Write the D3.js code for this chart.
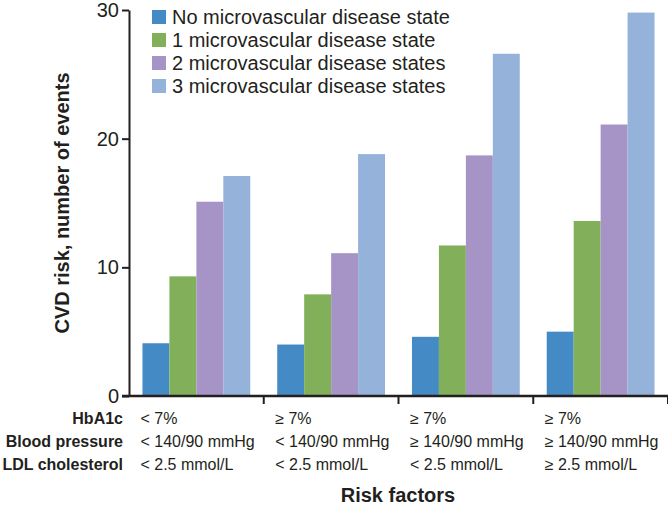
<!DOCTYPE html>
<html>
<head>
<meta charset="utf-8">
<script src="https://cdn.jsdelivr.net/npm/d3@7"></script>
<style>
  body { margin: 0; background: #fff; }
  svg text { font-family: "Liberation Sans", Arial, sans-serif; fill: #231f20; }
</style>
</head>
<body>
<svg id="chart" width="668" height="509"></svg>
<script>
// risk factor groups (x categories)
var groups = ["g1", "g2", "g3", "g4"];
var hba1c = ["< 7%", "\u2265 7%", "\u2265 7%", "\u2265 7%"];
var bloodPressure = ["< 140/90 mmHg", "< 140/90 mmHg", "\u2265 140/90 mmHg", "\u2265 140/90 mmHg"];
var ldl = ["< 2.5 mmol/L", "< 2.5 mmol/L", "< 2.5 mmol/L", "\u2265 2.5 mmol/L"];
var rowLabels = ["HbA1c", "Blood pressure", "LDL cholesterol"];

// series
var seriesNames = [
  "No microvascular disease state",
  "1 microvascular disease state",
  "2 microvascular disease states",
  "3 microvascular disease states"
];
var noMicro    = [4.1, 4.0, 4.6, 5.0];
var oneMicro   = [9.3, 7.9, 11.7, 13.6];
var twoMicro   = [15.1, 11.1, 18.7, 21.1];
var threeMicro = [17.1, 18.8, 26.6, 29.8];
var colors = ["#448bc6", "#82af59", "#a794c6", "#95b3da"];
var yTicks = [0, 10, 20, 30];

var seriesVals = [noMicro, oneMicro, twoMicro, threeMicro];

var svg = d3.select("#chart");
var pad = {left: 129, right: 668, top: 10, bottom: 396};

var x0 = d3.scaleBand().domain(groups).range([pad.left, pad.right]);
var x1 = d3.scaleBand().domain(d3.range(seriesNames.length))
  .range([x0.bandwidth() * 0.1, x0.bandwidth() * 0.9]);
var y = d3.scaleLinear().domain([0, 30]).range([pad.bottom, pad.top]);

// bars
groups.forEach(function(g, gi) {
  svg.append("g")
    .attr("transform", "translate(" + x0(g) + ",0)")
    .selectAll("rect")
    .data(seriesVals.map(function(s, si) { return {si: si, v: s[gi]}; }))
    .join("rect")
      .attr("x", function(d) { return x1(d.si); })
      .attr("width", x1.bandwidth())
      .attr("y", function(d) { return y(d.v); })
      .attr("height", function(d) { return pad.bottom - y(d.v); })
      .attr("fill", function(d) { return colors[d.si]; });
});

// y axis
var yAxis = svg.append("g")
  .attr("transform", "translate(" + pad.left + ",0)")
  .call(d3.axisLeft(y).tickValues(yTicks).tickSize(7).tickPadding(3).tickSizeOuter(0));
yAxis.select(".domain").attr("stroke", "#231f20").attr("stroke-width", 2);
yAxis.selectAll(".tick line").attr("stroke", "#231f20").attr("stroke-width", 2);
yAxis.selectAll(".tick text").style("font-size", "20px").attr("font-family", null);

// x axis (ticks at band edges)
var xg = svg.append("g");
xg.append("line")
  .attr("x1", pad.left - 7).attr("x2", pad.right)
  .attr("y1", pad.bottom).attr("y2", pad.bottom)
  .attr("stroke", "#231f20").attr("stroke-width", 2.5);
xg.selectAll("line.tk")
  .data(groups)
  .join("line")
    .attr("class", "tk")
    .attr("x1", function(d) { return x0(d) + x0.bandwidth(); })
    .attr("x2", function(d) { return x0(d) + x0.bandwidth(); })
    .attr("y1", pad.bottom).attr("y2", pad.bottom + 8)
    .attr("stroke", "#231f20").attr("stroke-width", 2);

// risk factor labels
var rows = [hba1c, bloodPressure, ldl];
var rowY = [424, 447, 470];
rowLabels.forEach(function(lbl, ri) {
  svg.append("text")
    .attr("x", 123).attr("y", rowY[ri])
    .attr("text-anchor", "end")
    .style("font-size", "16px").style("font-weight", "bold")
    .text(lbl);
  svg.selectAll(null)
    .data(rows[ri])
    .join("text")
      .attr("x", function(d, i) { return x0(groups[i]) + x1(0) - 2; })
      .attr("y", rowY[ri])
      .style("font-size", "16px")
      .text(function(d) { return d; });
});

// axis titles
svg.append("text")
  .attr("x", 398).attr("y", 502)
  .attr("text-anchor", "middle")
  .style("font-size", "20px").style("font-weight", "bold")
  .text("Risk factors");

svg.append("text")
  .attr("transform", "translate(69," + 203 + ") rotate(-90)")
  .attr("text-anchor", "middle")
  .style("font-size", "20px").style("font-weight", "bold")
  .text("CVD risk, number of events");

// legend
var legend = svg.append("g").attr("transform", "translate(152,10)");
seriesNames.forEach(function(name, i) {
  var row = legend.append("g").attr("transform", "translate(0," + (i * 23) + ")");
  row.append("rect").attr("width", 14).attr("height", 14).attr("fill", colors[i]);
  row.append("text").attr("x", 20).attr("y", 14)
    .style("font-size", "20px")
    .text(name);
});
</script>
</body>
</html>
